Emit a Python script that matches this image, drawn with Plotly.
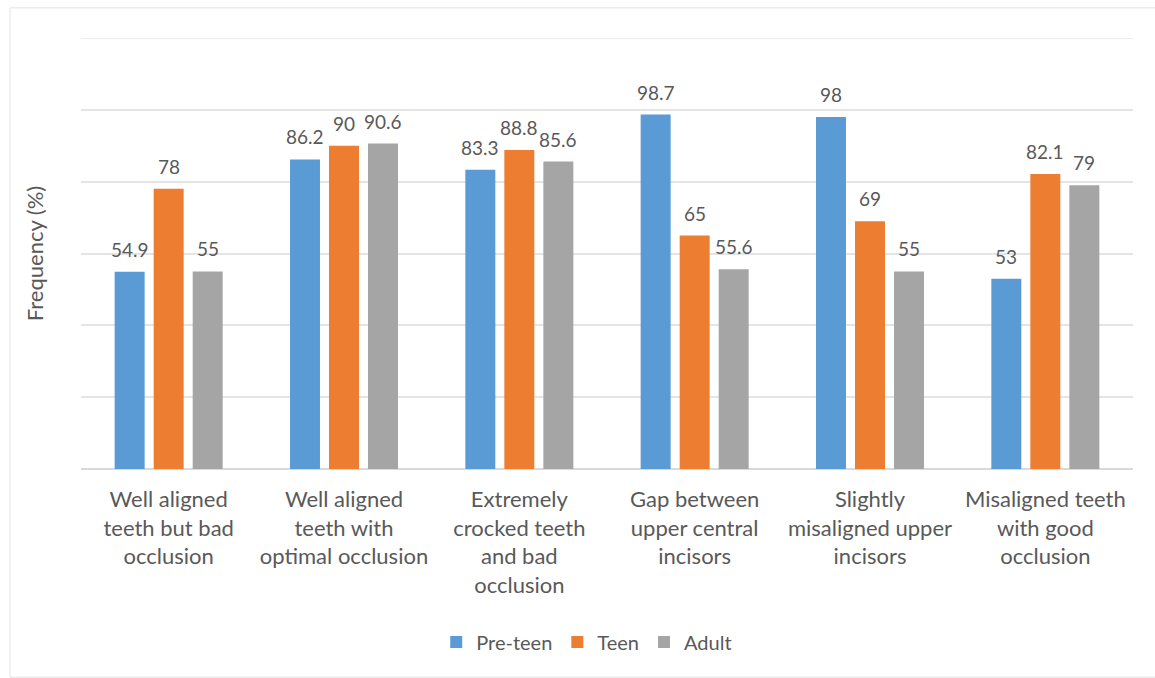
import plotly.graph_objects as go

categories = [
    "Well aligned<br>teeth but bad<br>occlusion",
    "Well aligned<br>teeth with<br>optimal occlusion",
    "Extremely<br>crocked teeth<br>and bad<br>occlusion",
    "Gap between<br>upper central<br>incisors",
    "Slightly<br>misaligned upper<br>incisors",
    "Misaligned teeth<br>with good<br>occlusion",
]
pre_teen = [54.9, 86.2, 83.3, 98.7, 98, 53]
teen = [78, 90, 88.8, 65, 69, 82.1]
adult = [55, 90.6, 85.6, 55.6, 55, 79]

series = [
    ("Pre-teen", pre_teen, "#5B9BD5"),
    ("Teen", teen, "#ED7D31"),
    ("Adult", adult, "#A5A5A5"),
]

TEXT = "#595959"
FONT = "Lato, 'Open Sans', sans-serif"
pitch = 0.2225      # distance between neighbouring bars in a group (category units)
bar_w = 0.171       # bar width (category units)
Y_MAX = 120

fig = go.Figure()
annotations = []
for k, (name, vals, color) in enumerate(series):
    xs = [i + (k - 1) * pitch for i in range(len(categories))]
    fig.add_trace(go.Bar(
        x=xs, y=vals, width=bar_w, name=name,
        marker=dict(color=color, line=dict(width=0)),
    ))
    for x, v in zip(xs, vals):
        annotations.append(dict(
            x=x, y=v, xref="x", yref="y", text=f"{v:g}", showarrow=False,
            yanchor="bottom", yshift=9,
            font=dict(family=FONT, size=19, color=TEXT),
        ))

# top gridline sits on the edge of the value range
fig.add_shape(type="line", xref="paper", yref="y", x0=0, x1=1, y0=Y_MAX, y1=Y_MAX,
              line=dict(color="#e4e4e4", width=1.5), layer="below")

# light frame around the chart
fig.add_shape(type="rect", xref="paper", yref="paper",
              x0=-0.0675, x1=1.05, y0=-0.483, y1=1.07,
              line=dict(color="#e3e3e3", width=1), layer="below")

fig.update_layout(
    width=1155, height=678,
    margin=dict(l=81, r=22, t=38, b=209),
    paper_bgcolor="white", plot_bgcolor="white",
    barmode="overlay",
    font=dict(family=FONT, size=21, color=TEXT),
    annotations=annotations,
    showlegend=True,
    legend=dict(
        orientation="h", xref="container", yref="container",
        x=0.508, xanchor="center", y=0.053, yanchor="middle",
        font=dict(family=FONT, size=20, color=TEXT),
        itemwidth=30, traceorder="normal",
    ),
    xaxis=dict(
        range=[-0.5, 5.5],
        tickvals=list(range(len(categories))),
        ticktext=categories,
        showgrid=False, zeroline=False, showline=False,
        ticks="", ticklabelstandoff=15,
        tickfont=dict(family=FONT, size=22, color=TEXT),
        fixedrange=True,
    ),
    yaxis=dict(
        range=[0, Y_MAX], dtick=20,
        showticklabels=False, ticks="",
        showgrid=True, gridcolor="#e4e4e4", gridwidth=1.5,
        zeroline=True, zerolinecolor="#d9d9d9", zerolinewidth=1.5,
        showline=False,
        title=dict(text="Frequency (%)", standoff=30,
                   font=dict(family=FONT, size=22, color=TEXT)),
    ),
)

fig.write_html("out.html")
